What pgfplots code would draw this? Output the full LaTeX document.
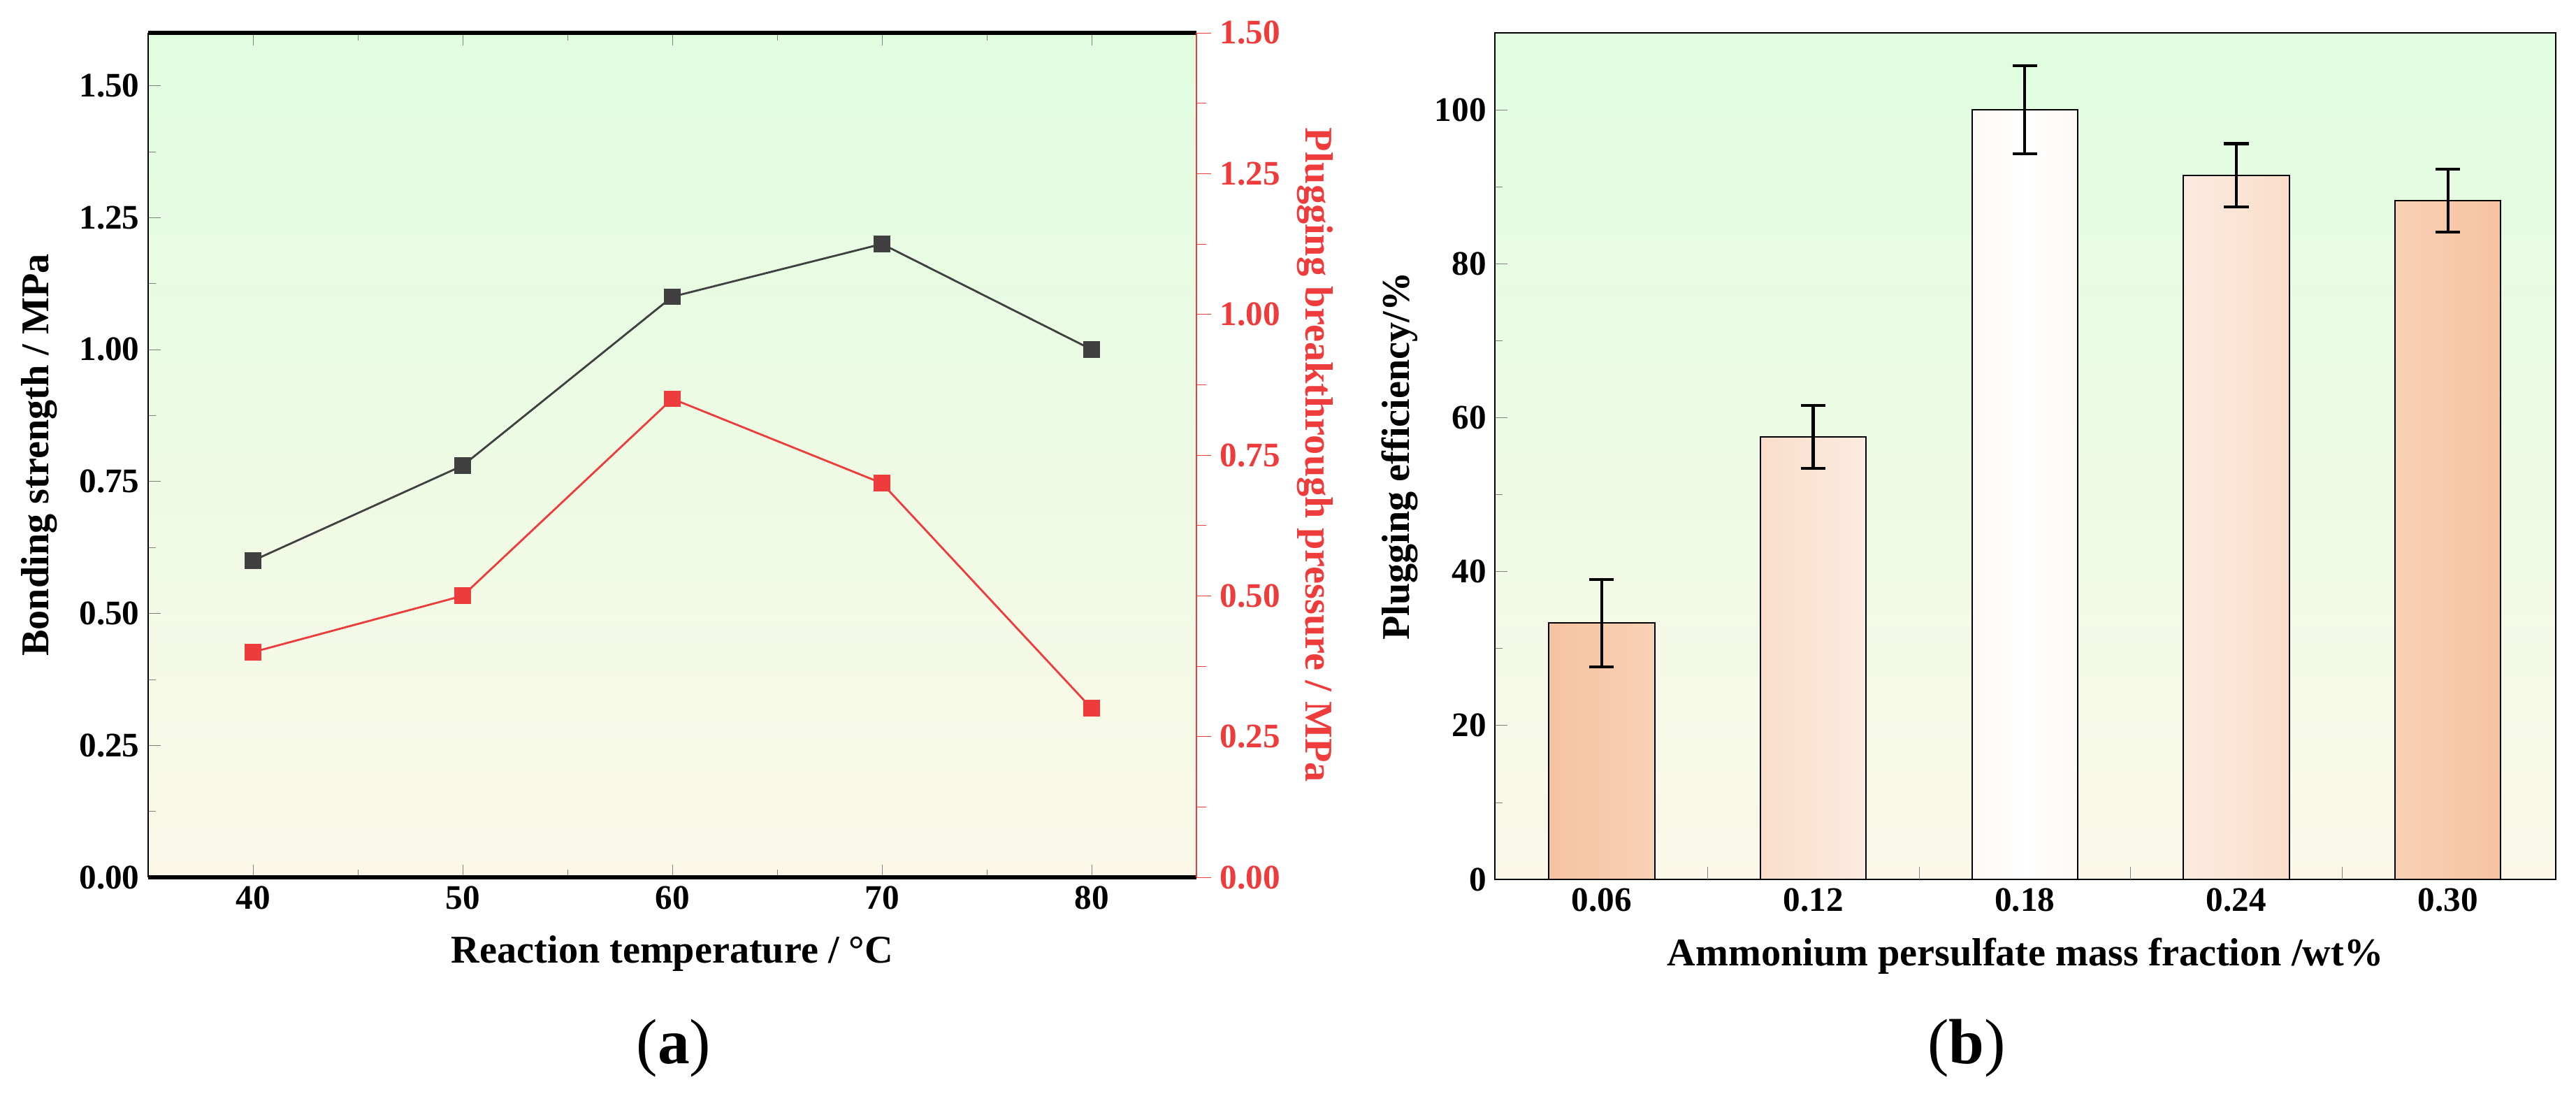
\documentclass[border=0pt]{standalone}
\usepackage{pgfplots}
\pgfplotsset{compat=1.18}
\usepackage{fontspec}
\setmainfont{Liberation Serif}
\definecolor{myred}{HTML}{EE3B3B}
\definecolor{mygray}{HTML}{404040}
\definecolor{bgtop}{HTML}{E0FDE0}
\definecolor{bgbot}{HTML}{FBF8E8}
\definecolor{peach}{HTML}{F6C3A0}
\begin{document}
\begin{tikzpicture}
\path[use as bounding box] (0,0) rectangle (36.86,15.85);
\pgfplotsset{every axis/.append style={
  scale only axis, anchor=south west,
  /pgf/number format/assume math mode=true,
  tick label style={font=\fontsize{14}{16}\selectfont\bfseries},
  label style={font=\fontsize{16}{18}\selectfont\bfseries},
}}
% panel a, left axis
\begin{axis}[at={(2.12cm,3.30cm)}, width=15.0cm, height=12.08cm,
  xmin=35, xmax=85, ymin=0, ymax=1.6,
  axis y line*=left,
  axis background/.style={top color=bgtop, bottom color=bgbot},
  xtick={40,50,60,70,80}, minor x tick num=1,
  ytick={0,0.25,...,1.5}, minor y tick num=1,
  yticklabel style={/pgf/number format/.cd, fixed, fixed zerofill, precision=2},
  tick align=inside, major tick length=5pt, minor tick length=3pt,
  x axis line style={line width=1.5pt},
  y axis line style={line width=0.6pt},
  xlabel={Reaction temperature / °C},
  ylabel={Bonding strength / MPa},
  xlabel style={yshift=-4pt},
  ylabel style={yshift=2pt},
]
\addplot[mygray, line width=0.8pt, mark=square*, mark size=3pt] coordinates {
(40,0.60) (50,0.78) (60,1.10) (70,1.20) (80,1.00)};
\end{axis}
% panel a, right axis
\begin{axis}[at={(2.12cm,3.30cm)}, width=15.0cm, height=12.08cm,
  xmin=35, xmax=85, ymin=0, ymax=1.5,
  axis x line=none, axis y line*=right,
  ytick={0,0.25,...,1.5}, minor y tick num=1,
  yticklabel style={myred, /pgf/number format/.cd, fixed, fixed zerofill, precision=2},
  tick align=outside, major tick length=6pt, minor tick length=4pt,
  y axis line style={myred, line width=0.8pt},
  ytick style={myred},
  ylabel={Plugging breakthrough pressure / MPa},
  ylabel style={myred, rotate=180},
]
\addplot[myred, line width=0.8pt, mark=square*, mark size=3pt] coordinates {
(40,0.40) (50,0.50) (60,0.85) (70,0.70) (80,0.30)};
\end{axis}
% panel b
\begin{axis}[at={(21.39cm,3.27cm)}, width=15.18cm, height=12.11cm,
  xmin=-0.505, xmax=4.51, ymin=0, ymax=110,
  axis background/.style={top color=bgtop, bottom color=bgbot},
  xtick={0,1,2,3,4}, xticklabels={0.06,0.12,0.18,0.24,0.30},
  extra x ticks={0.5,1.5,2.5,3.5}, extra x tick labels={},
  ytick={0,20,...,100}, minor y tick num=1,
  tick align=inside, major tick length=5pt, minor tick length=3pt,
  xtick pos=bottom, ytick pos=left,
  axis line style={line width=0.6pt},
  x axis line style={line width=1.5pt},
  xlabel={Ammonium persulfate mass fraction /wt\%},
  ylabel={Plugging efficiency/\%},
  xlabel style={yshift=-4pt},
]
\addplot[ybar, bar width=0.5, draw=black, line width=0.6pt,
  left color=peach, right color=peach, middle color=white,
  error bars/.cd, y dir=both, y explicit,
  error bar style={black, line width=1.2pt}, error mark options={black, line width=1.2pt, mark size=5pt, rotate=90}]
coordinates {
(0,33.3) +- (0,5.7)
(1,57.5) +- (0,4.1)
(2,100.0) +- (0,5.7)
(3,91.5) +- (0,4.1)
(4,88.2) +- (0,4.1)};
\end{axis}
\node[font=\fontsize{26}{30}\selectfont] at (9.64,0.85) {(\textbf{a})};
\node[font=\fontsize{26}{30}\selectfont] at (28.14,0.85) {(\textbf{b})};
\end{tikzpicture}
\end{document}
